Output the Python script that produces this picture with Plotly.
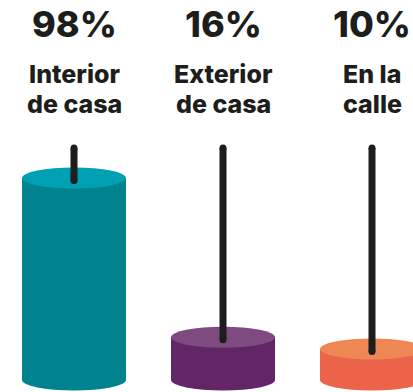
import plotly.graph_objects as go

# ---- data ----
categories = ["Interior<br>de casa", "Exterior<br>de casa", "En la<br>calle"]
values = [98, 16, 10]
value_labels = ["98%", "16%", "10%"]

# ---- styles ----
body_colors = ["#00838F", "#622567", "#EB6449"]
top_colors = ["#00A0B3", "#7E4A80", "#EF8755"]
wick_color = "#1D1D1B"
text_color = "#1D1D1B"
FONT = "Inter"

W, H = 413, 392
base = -6.0          # visual base offset of candles (y units)
px_per_unit = 1.942  # vertical scale
x_unit_px = 149.0
x0_px = 74.0
bottom_px = 380.0
half_w = 0.349       # half candle width (x units)
ry = 10.5 / px_per_unit
wick_top = base + (bottom_px - 148) / px_per_unit
wick_w_px = 7

y_range = [base - (H - bottom_px) / px_per_unit, base + bottom_px / px_per_unit]
x_range = [-x0_px / x_unit_px, (W - x0_px) / x_unit_px]

xs = list(range(len(values)))

fig = go.Figure()
fig.add_trace(go.Bar(
    x=xs, y=[v - base for v in values], base=base, width=2 * half_w,
    marker=dict(color=body_colors, line=dict(width=0)),
    hoverinfo="skip", showlegend=False,
))

shapes = []
for i, v in enumerate(values):
    shapes.append(dict(type="circle", xref="x", yref="y", layer="below",
                       x0=i - half_w, x1=i + half_w, y0=base - ry, y1=base + ry,
                       fillcolor=body_colors[i], line=dict(width=0)))
    shapes.append(dict(type="circle", xref="x", yref="y",
                       x0=i - half_w, x1=i + half_w, y0=v - ry, y1=v + ry,
                       fillcolor=top_colors[i], line=dict(width=0)))
    wb = v - 2.5 / px_per_unit
    shapes.append(dict(type="line", xref="x", yref="y",
                       x0=i, x1=i, y0=wb, y1=wick_top,
                       line=dict(color=wick_color, width=wick_w_px)))
    r_x = (wick_w_px / 2) / x_unit_px
    r_y = (wick_w_px / 2) / px_per_unit
    for yy in (wb, wick_top):
        shapes.append(dict(type="circle", xref="x", yref="y",
                           x0=i - r_x, x1=i + r_x, y0=yy - r_y, y1=yy + r_y,
                           fillcolor=wick_color, line=dict(width=0)))

annotations = []
for i, (lab, cat) in enumerate(zip(value_labels, categories)):
    annotations.append(dict(x=i, xref="x", y=1 - 23.5 / H, yref="paper",
                            text=lab, showarrow=False, xanchor="center", yanchor="middle",
                            font=dict(family=FONT, size=36, color=text_color, weight=800)))
    for j, line in enumerate(cat.split("<br>")):
        cy = [74.5, 104.0][j]
        annotations.append(dict(x=i, xref="x", y=1 - cy / H, yref="paper",
                                text=line, showarrow=False, xanchor="center", yanchor="middle",
                                font=dict(family=FONT, size=25, color=text_color, weight=800)))

fig.update_layout(
    width=W, height=H,
    margin=dict(l=0, r=0, t=0, b=0),
    paper_bgcolor="white", plot_bgcolor="white",
    xaxis=dict(range=x_range, visible=False, fixedrange=True),
    yaxis=dict(range=y_range, visible=False, fixedrange=True),
    shapes=shapes, annotations=annotations,
    bargap=0,
)

fig.write_html("out.html", config={"displayModeBar": False},
               post_script="document.body.style.margin='0';document.body.style.padding='0';")
